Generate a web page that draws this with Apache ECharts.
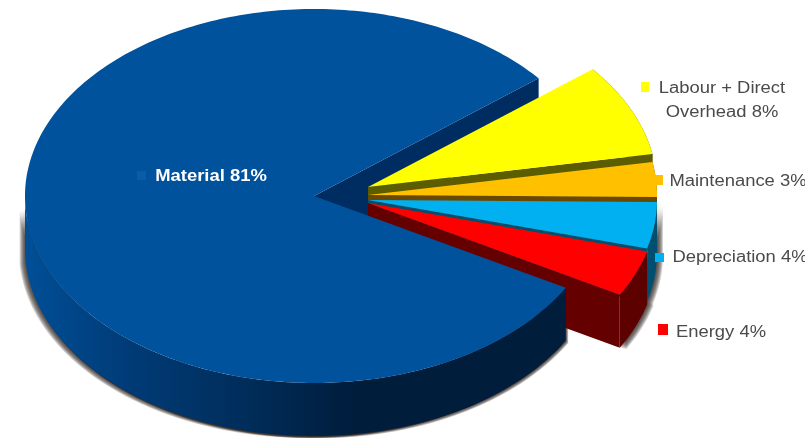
<!DOCTYPE html>
<html>
<head>
<meta charset="utf-8">
<style>
  html, body { margin: 0; padding: 0; background: #fff; }
  #chart { width: 805px; height: 438px; }
</style>
<script src="https://cdn.jsdelivr.net/npm/echarts@6/dist/echarts.min.js"></script>
</head>
<body>
<div id="chart"></div>
<script>
// Cost breakdown, in percent, in clockwise drawing order.
const categories = ['Labour + Direct\nOverhead', 'Maintenance', 'Depreciation', 'Energy', 'Material'];
const shares = [8, 3, 4, 4, 81];

// Pie geometry: a tilted disc with a visible rim.
const PIE = { cx: 314, cy: 196, rx: 289, ry: 187, depth: 53, startDeg: 39 };

// Per-slice presentation, in the same order as the categories.
const explode = [[54, -9], [54, -1], [54, 4], [54, 7], [0, 0]];
const topColors = ['#ffff00', '#ffc000', '#00b0f0', '#ff0000', '#00529c'];
const cutColors = ['#5c5c00', '#6b4800', '#004f70', '#650000', '#002d61'];
const rimColors = ['#5c5c00', '#6b4800', '#004f70', '#5c0000', null];
const labelAnchors = [[722, 101], [738, 182], [740, 258], [721, 333], [211, 177]];
const markerBoxes = [[641, 82, 8, 10], [655, 175, 8, 10], [655, 253, 9, 9], [658, 324, 10, 11], [137, 171, 9, 9]];
const markerColors = ['#ffff00', '#ffc000', '#00b0f0', '#ff0000', '#0a5cab'];
const labelColors = ['#4a4a4a', '#4a4a4a', '#4a4a4a', '#4a4a4a', '#ffffff'];

const total = shares.reduce((a, b) => a + b, 0);
const startAngles = [];
shares.reduce((angle, v, i) => {
  startAngles[i] = angle;
  return angle - v / total * 360;
}, PIE.startDeg);

function rimPoint(center, deg, drop) {
  const t = deg * Math.PI / 180;
  return [center[0] + PIE.rx * Math.cos(t), center[1] - PIE.ry * Math.sin(t) + (drop || 0)];
}
function arc(center, from, to, drop) {
  const n = Math.max(2, Math.ceil(Math.abs(to - from)));
  const pts = [];
  for (let i = 0; i <= n; i++) pts.push(rimPoint(center, from + (to - from) * i / n, drop));
  return pts;
}
function poly(points, style, z2) {
  return {
    type: 'polygon', z2: z2, silent: true,
    shape: { points: points },
    style: style
  };
}
// Rim wall between two angles, hanging below the top face.
function wall(center, from, to) {
  return arc(center, from, to, 0).concat(arc(center, to, from, PIE.depth));
}
// Flat wall along a radial cut.
function cutWall(center, deg) {
  const p = rimPoint(center, deg, 0);
  return [center, p, [p[0], p[1] + PIE.depth], [center[0], center[1] + PIE.depth]];
}
// Soft drop shadow: the rim wall repeated with growing offsets at low opacity.
function softShadow(center, from, to, stepX, stepY) {
  const layers = [];
  for (let k = 6; k >= 1; k--) {
    layers.push({
      type: 'polygon', z2: 0, silent: true,
      x: stepX * k, y: stepY * k,
      shape: { points: wall(center, from, to) },
      style: { fill: 'rgba(45,38,30,0.22)' }
    });
  }
  return layers;
}

function renderSlice(params, api) {
  const i = params.dataIndex;
  const value = api.value(0);
  const from = startAngles[i];
  const to = from - value / total * 360;
  const center = [PIE.cx + explode[i][0], PIE.cy + explode[i][1]];
  const top = [center].concat(arc(center, from, to, 0));
  let children = [];
  const isMain = i === categories.length - 1;

  if (isMain) {
    // The large slice wraps around: its near rim stops at the left extreme.
    const nearEnd = -180;
    const rimFill = new echarts.graphic.LinearGradient(PIE.cx - PIE.rx, 0, PIE.cx + 40, 0, [
      { offset: 0, color: '#004f97' },
      { offset: 0.3, color: '#003c78' },
      { offset: 0.65, color: '#002e5c' },
      { offset: 1, color: '#001d3c' }
    ], true);
    children = children.concat(softShadow(center, from, -176, -1, 0.35));
    children = children.concat(softShadow(center, from, -176, 0.4, 0.4));
    children.push(poly(cutWall(center, to), { fill: cutColors[i] }, 1));
    children.push(poly(wall(center, from, nearEnd), { fill: rimFill }, 30));
    children.push(poly(top, { fill: topColors[i] }, 31));
  } else {
    const base = 2 + i * 3;
    if (i >= 2) {
      children = children.concat(softShadow(center, from, to, 1, 0.3));
    }
    children.push(poly(wall(center, from, to), { fill: rimColors[i] }, base));
    children.push(poly(cutWall(center, to), { fill: cutColors[i] }, base + 1));
    children.push(poly(top, { fill: topColors[i] }, base + 2));
  }

  const box = markerBoxes[i];
  children.push({
    type: 'rect', z2: 40, silent: true,
    shape: { x: box[0], y: box[1], width: box[2], height: box[3] },
    style: { fill: markerColors[i] }
  });
  const anchor = labelAnchors[i];
  children.push({
    type: 'text', z2: 41, silent: true,
    x: anchor[0], y: anchor[1],
    scaleX: 1.15,
    style: {
      text: categories[i] + ' ' + value + '%',
      x: 0, y: 0,
      fill: labelColors[i],
      font: (isMain ? 'bold ' : '') + '16px "Liberation Sans", Arial, sans-serif',
      lineHeight: 24,
      align: 'center',
      verticalAlign: 'middle'
    }
  });
  return { type: 'group', children: children };
}

const chart = echarts.init(document.getElementById('chart'), null, { renderer: 'canvas' });
chart.setOption({
  animation: false,
  backgroundColor: '#ffffff',
  series: [{
    type: 'custom',
    coordinateSystem: 'none',
    renderItem: renderSlice,
    data: shares.map((v, i) => ({ name: categories[i], value: [v] }))
  }]
});
</script>
</body>
</html>
